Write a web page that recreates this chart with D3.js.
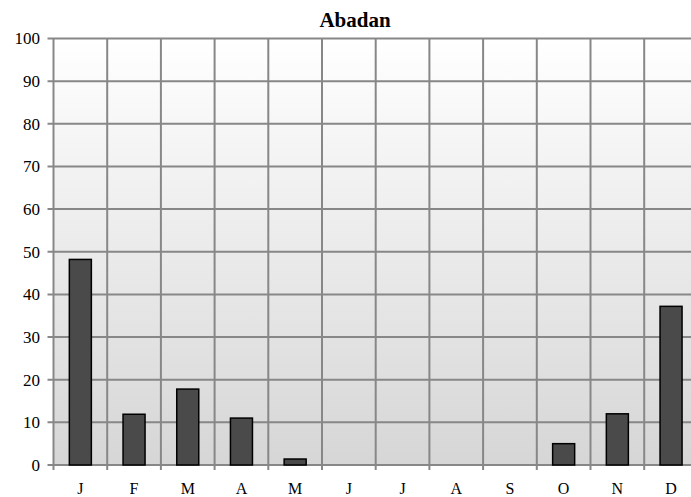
<!DOCTYPE html>
<html><head><meta charset="utf-8">
<script src="https://cdn.jsdelivr.net/npm/d3@7"></script>
<style>body{margin:0;background:#fff}svg{display:block}</style>
</head><body>
<script>
const title = "Abadan";
const months = ["J","F","M","A","M","J","J","A","S","O","N","D"];
const values = [48.2, 11.9, 17.8, 11, 1.4, 0, 0, 0, 0, 5, 12, 37.2];
const yTicks = [0,10,20,30,40,50,60,70,80,90,100];

const W = 691, H = 497;
const m = {left: 53.5, top: 38.5, bottom: 465};
const plotRight = 53.5 + 12*53.7;
const svg = d3.select("body").append("svg").attr("width", W).attr("height", H);
const defs = svg.append("defs");
const g = defs.append("linearGradient").attr("id","bg").attr("x1",0).attr("y1",0).attr("x2",0).attr("y2",1);
g.append("stop").attr("offset","0%").attr("stop-color","#ffffff");
g.append("stop").attr("offset","100%").attr("stop-color","#d6d6d6");

const x = d3.scaleBand().domain(d3.range(12)).range([m.left, plotRight]).paddingInner(0).paddingOuter(0);
const y = d3.scaleLinear().domain([0,100]).range([m.bottom, m.top]);

svg.append("rect").attr("x", m.left).attr("y", m.top).attr("width", plotRight-m.left).attr("height", m.bottom-m.top).attr("fill","url(#bg)");

svg.append("g").selectAll("line").data(yTicks).join("line")
  .attr("x1", m.left-6).attr("x2", plotRight).attr("y1", d=>y(d)).attr("y2", d=>y(d))
  .attr("stroke","#878787").attr("stroke-width",2);
svg.append("g").selectAll("line").data(d3.range(13)).join("line")
  .attr("x1", d=>m.left + d*x.bandwidth()).attr("x2", d=>m.left + d*x.bandwidth())
  .attr("y1", m.top).attr("y2", m.bottom+5)
  .attr("stroke","#878787").attr("stroke-width",2);

const data = values.map((v,i)=>({i, v})).filter(d=>d.v>0);
const bw = x.bandwidth()*0.41;
svg.append("g").selectAll("rect").data(data).join("rect")
  .attr("x", d=>x(d.i) + (x.bandwidth()-bw)/2)
  .attr("y", d=>y(d.v)).attr("width", bw).attr("height", d=>y(0)-y(d.v))
  .attr("fill","#4a4a4a").attr("stroke","#000").attr("stroke-width",1.5);

svg.append("g").selectAll("text").data(yTicks).join("text")
  .attr("x", 40).attr("y", d=>y(d)).attr("dy","0.35em").attr("text-anchor","end")
  .attr("font-family","Liberation Serif, serif").attr("font-size",17).text(d=>d);
svg.append("g").selectAll("text").data(months).join("text")
  .attr("x", (d,i)=>x(i)+x.bandwidth()/2).attr("y", 494).attr("text-anchor","middle")
  .attr("font-family","Liberation Serif, serif").attr("font-size",16).text(d=>d);
svg.append("text").attr("x", 355).attr("y", 27).attr("text-anchor","middle")
  .attr("font-family","Liberation Serif, serif").attr("font-weight","bold").attr("font-size",21).text(title);
</script>
</body></html>
